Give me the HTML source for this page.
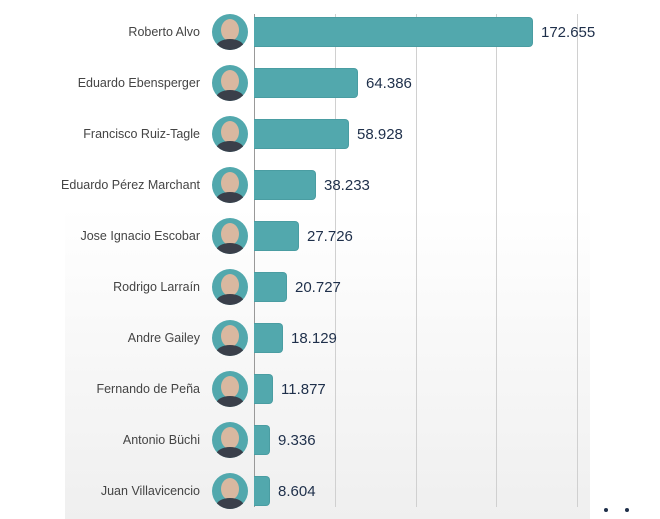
<!DOCTYPE html>
<html><head><style>
html,body{margin:0;padding:0;background:#fff;}
body{width:660px;height:519px;position:relative;overflow:hidden;font-family:"Liberation Sans",sans-serif;}
.panel{position:absolute;left:65px;top:0;width:525px;height:519px;background:linear-gradient(#fff 0%,#fff 40%,#efefef 100%);}
.grid{position:absolute;top:14px;height:493px;width:1px;background:#d0d0d0;}
.base{position:absolute;left:254px;top:14px;height:493px;width:1px;background:#999;}
.name{position:absolute;right:460px;font-size:12.5px;color:#444;text-align:right;white-space:nowrap;}
.av{position:absolute;left:212px;width:36px;height:36px;border-radius:50%;background:#52a8ad;overflow:hidden;}
.av .face{position:absolute;left:9px;top:5px;width:18px;height:22px;border-radius:50%;background:#d9b8a0;}
.av .body{position:absolute;left:4px;top:25px;width:28px;height:16px;border-radius:50% 50% 0 0;background:#3a3f4a;}
.bar{position:absolute;left:254px;height:30px;background:#52a8ad;border:1px solid #4a9da2;border-left:none;border-radius:0 4px 4px 0;box-sizing:border-box;}
.val{position:absolute;font-size:15px;color:#1e2f4a;}
.dot{position:absolute;top:508px;width:4px;height:4px;border-radius:50%;background:#1e2f4a;}
</style></head><body>
<div class="panel"></div>
<div class="grid" style="left:335px"></div>
<div class="grid" style="left:416px"></div>
<div class="grid" style="left:496px"></div>
<div class="grid" style="left:577px"></div>
<div class="base"></div>
<div id="rows"></div>
<div class="dot" style="left:604px"></div>
<div class="dot" style="left:625px"></div>
<script>
var d=[["Roberto Alvo",172.655,"172.655"],["Eduardo Ebensperger",64.386,"64.386"],["Francisco Ruiz-Tagle",58.928,"58.928"],["Eduardo Pérez Marchant",38.233,"38.233"],["Jose Ignacio Escobar",27.726,"27.726"],["Rodrigo Larraín",20.727,"20.727"],["Andre Gailey",18.129,"18.129"],["Fernando de Peña",11.877,"11.877"],["Antonio Büchi",9.336,"9.336"],["Juan Villavicencio",8.604,"8.604"]];
var h="";
d.forEach(function(r,i){var c=32+i*51;var w=Math.round(r[1]*1.616);if(w<16)w=16;
h+='<div class="name" style="top:'+(c-7)+'px">'+r[0]+'</div>';
h+='<div class="av" style="top:'+(c-18)+'px"><div class="face"></div><div class="body"></div></div>';
h+='<div class="bar" style="top:'+(c-15)+'px;width:'+w+'px"></div>';
h+='<div class="val" style="top:'+(c-8)+'px;left:'+(254+w+8)+'px">'+r[2]+'</div>';});
document.getElementById("rows").innerHTML=h;
</script>
</body></html>
